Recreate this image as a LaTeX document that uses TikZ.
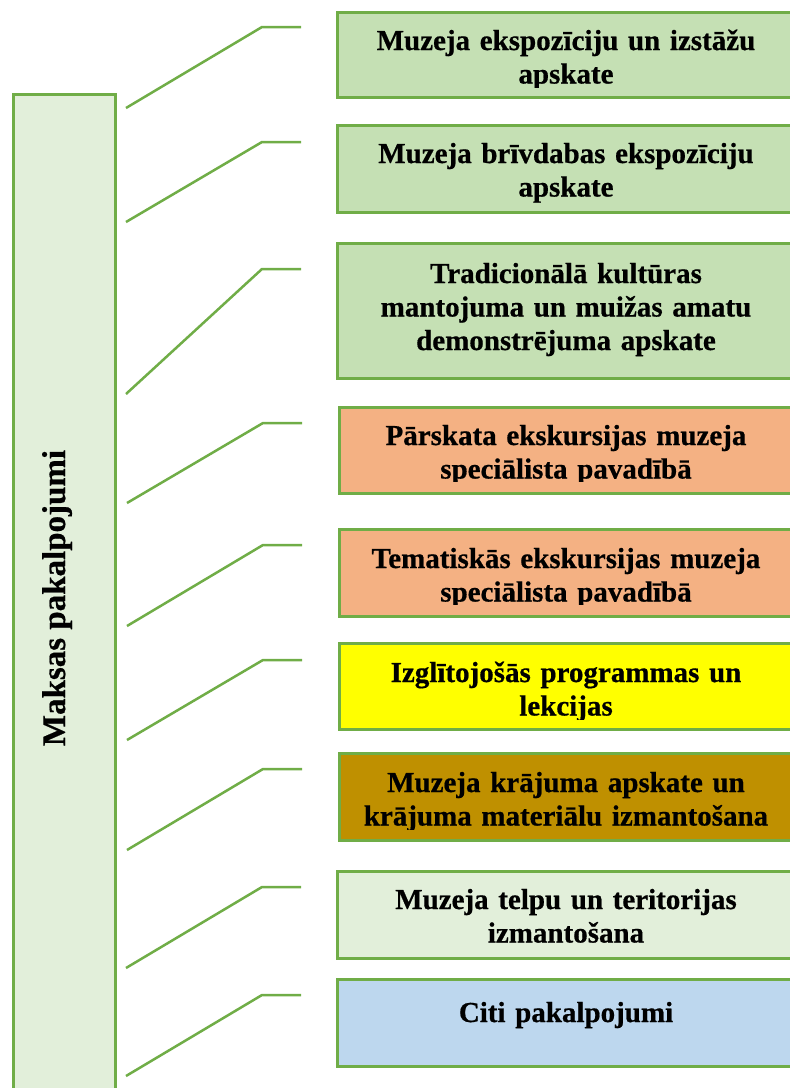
\documentclass[tikz,border=0pt]{standalone}
\usepackage{fontspec}
\setmainfont{Liberation Serif}[BoldFeatures={FakeBold=0.6}]
\usetikzlibrary{fit}
\definecolor{lgreen}{HTML}{70AD47}
\definecolor{fgreen}{HTML}{C5E0B4}
\definecolor{pgreen}{HTML}{E2EFDA}
\definecolor{forange}{HTML}{F4B183}
\definecolor{fyellow}{HTML}{FFFF00}
\definecolor{fgold}{HTML}{BF9000}
\definecolor{fblue}{HTML}{BDD7EE}
\begin{document}
\begin{tikzpicture}[x=1pt,y=-1pt,
  box/.style={draw=lgreen, line width=3pt, inner sep=0pt},
  txt/.style={font=\bfseries\fontsize{29}{33.5}\selectfont, text width=450pt, align=center, inner sep=0pt, anchor=base},
  lbl/.style={font=\bfseries\fontsize{33}{38}\selectfont, inner sep=0pt, anchor=base, rotate=90},
  conn/.style={draw=lgreen, line width=2.5pt}]
\clip (0,0) rectangle (790,1088);
% left box
\node[box, fill=pgreen, fit={(13,94) (115,1100)}] (main) {};
\node[lbl] (mainlbl) at (65,598) {Maksas pakalpojumi};
% right boxes
\node[box, fill=fgreen, fit={(337,12) (800,97)}] (b1) {};
\node[box, fill=fgreen, fit={(337,125) (800,212)}] (b2) {};
\node[box, fill=fgreen, fit={(337,243) (800,378)}] (b3) {};
\node[box, fill=forange, fit={(339,407) (800,493)}] (b4) {};
\node[box, fill=forange, fit={(339,529) (800,616)}] (b5) {};
\node[box, fill=fyellow, fit={(339,643) (800,729)}] (b6) {};
\node[box, fill=fgold, fit={(339,753) (800,840)}] (b7) {};
\node[box, fill=pgreen, fit={(337,871) (800,958)}] (b8) {};
\node[box, fill=fblue, fit={(337,979) (800,1066)}] (b9) {};
% texts (clipped to the text area of each box)
\begin{scope}\clip (b1.north west) rectangle ([yshift=11pt]b1.south east);
\node[txt] (t1) at (566,50) {Muzeja ekspozīciju un izstāžu\\apskate};\end{scope}
\begin{scope}\clip (b2.north west) rectangle ([yshift=10pt]b2.south east);
\node[txt] (t2) at (566,163) {Muzeja brīvdabas ekspozīciju\\apskate};\end{scope}
\begin{scope}\clip (b3.north west) rectangle ([yshift=11pt]b3.south east);
\node[txt] (t3) at (566,283) {Tradicionālā kultūras\\mantojuma un muižas amatu\\demonstrējuma apskate};\end{scope}
\begin{scope}\clip (b4.north west) rectangle ([yshift=13pt]b4.south east);
\node[txt] (t4) at (566,445) {Pārskata ekskursijas muzeja\\speciālista pavadībā};\end{scope}
\begin{scope}\clip (b5.north west) rectangle ([yshift=13pt]b5.south east);
\node[txt] (t5) at (566,568) {Tematiskās ekskursijas muzeja\\speciālista pavadībā};\end{scope}
\begin{scope}\clip (b6.north west) rectangle ([yshift=11pt]b6.south east);
\node[txt] (t6) at (566,682) {Izglītojošās programmas un\\lekcijas};\end{scope}
\begin{scope}\clip (b7.north west) rectangle ([yshift=12pt]b7.south east);
\node[txt] (t7) at (566,792) {Muzeja krājuma apskate un\\krājuma materiālu izmantošana};\end{scope}
\begin{scope}\clip (b8.north west) rectangle ([yshift=11pt]b8.south east);
\node[txt] (t8) at (566,909) {Muzeja telpu un teritorijas\\izmantošana};\end{scope}
\node[txt] (t9) at (566,1022) {Citi pakalpojumi};
% connectors
\coordinate (s1) at (126,108);  \coordinate (e1) at (301,27);
\coordinate (s2) at (126,222);  \coordinate (e2) at (301,142);
\coordinate (s3) at (126,394);  \coordinate (e3) at (301,269);
\coordinate (s4) at (127,503);  \coordinate (e4) at (302,423);
\coordinate (s5) at (127,626);  \coordinate (e5) at (302,545);
\coordinate (s6) at (127,740);  \coordinate (e6) at (302,660);
\coordinate (s7) at (127,850);  \coordinate (e7) at (302,769);
\coordinate (s8) at (126,968);  \coordinate (e8) at (301,887);
\coordinate (s9) at (126,1076); \coordinate (e9) at (301,995);
\foreach \i in {1,...,9}{
  \draw[conn] (s\i) -- ([xshift=-39pt]e\i) -- (e\i);
}
\end{tikzpicture}
\end{document}
